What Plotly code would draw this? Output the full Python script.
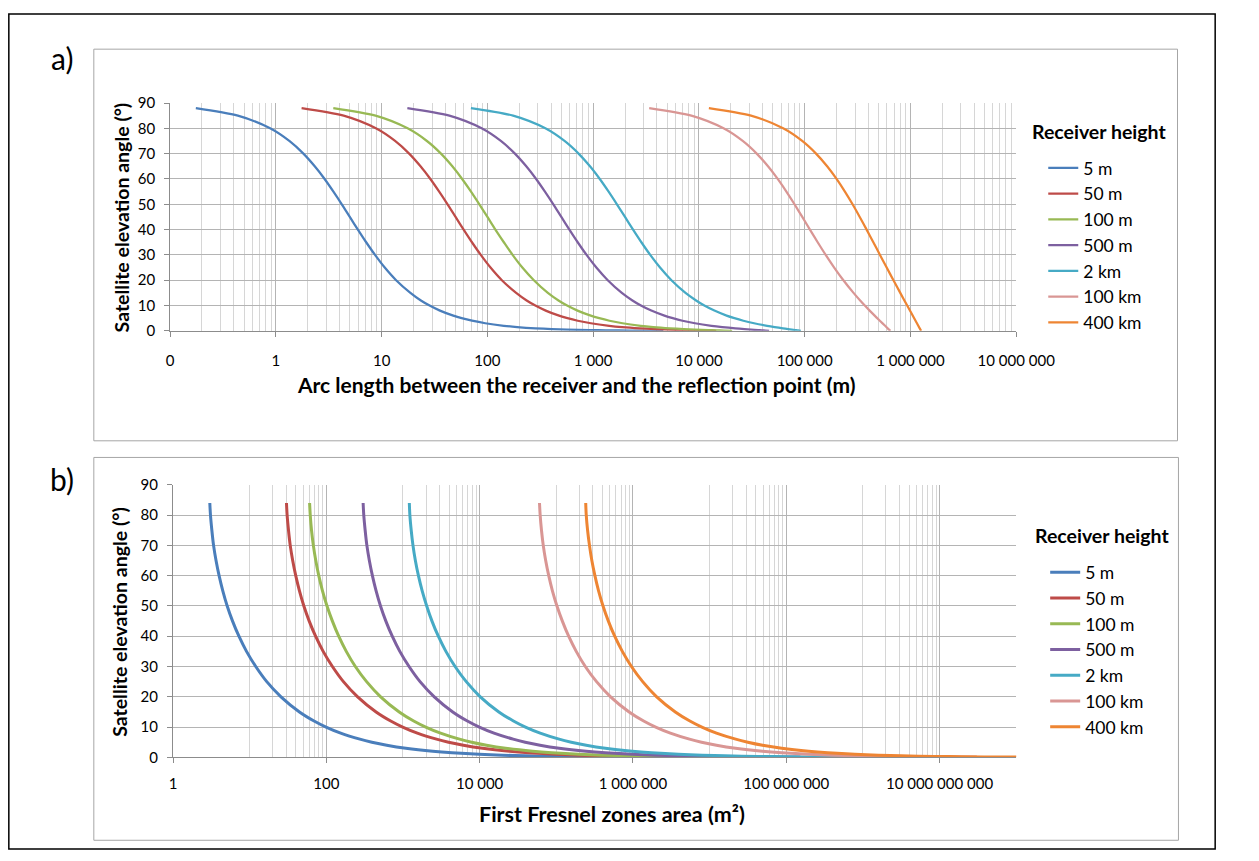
import plotly.graph_objects as go

# ---------------- data ----------------
series_names = ["5 m", "50 m", "100 m", "500 m", "2 km", "100 km", "400 km"]
series_colors = ["#4A7EBB", "#BE4B48", "#98B954", "#7D60A0", "#46AAC5", "#D99694", "#EE8533"]

# Panel a: satellite elevation (deg) vs arc length (m)
elev_a = [88, 85, 80, 75, 70, 65, 60, 55, 50, 45, 40, 35, 30, 25, 20, 15, 12, 10, 8, 6,
          5, 4, 3, 2, 1.5, 1, 0.7, 0.5, 0.3, 0.2, 0.1, 0]
arc_5m = [0.175, 0.437, 0.882, 1.34, 1.82, 2.33, 2.89, 3.50, 4.20, 5.00, 5.96, 7.14, 8.66, 10.7,
          13.7, 18.7, 23.5, 28.4, 35.6, 47.6, 57.1, 71.5, 95.4, 143, 191, 285, 406, 564, 917,
          1316, 2207, 4608]
arc_50m = [1.75, 4.37, 8.82, 13.4, 18.2, 23.3, 28.9, 35.0, 42.0, 50.0, 59.6, 71.4, 86.6, 107,
           137, 187, 235, 284, 356, 476, 571, 714, 951, 1419, 1878, 2762, 3812, 5043, 7211,
           8937, 11330, 14573]
arc_100m = [3.49, 8.75, 17.6, 26.8, 36.4, 46.6, 57.7, 70.0, 83.9, 100, 119, 143, 173, 214, 275,
            373, 470, 567, 711, 950, 1142, 1425, 1894, 2811, 3697, 5344, 7189, 9184, 12298,
            14489, 17234, 20609]
arc_500m = [17.5, 43.7, 88.2, 134, 182, 233, 289, 350, 420, 500, 596, 714, 866, 1072, 1374,
            1866, 2352, 2830, 3545, 4720, 5660, 6997, 9171, 13156, 16616, 22075, 26940, 31137,
            36286, 39262, 42526, 46083]
arc_2km = [69.8, 175, 353, 536, 728, 933, 1155, 1400, 1678, 2000, 2384, 2856, 3464, 4289, 5495,
           7464, 9400, 11250, 14000, 18270, 21647, 26305, 33223, 44137, 52026, 62262, 69789,
           75464, 81703, 85036, 88520, 92152]
elev_a_100km = [88, 85, 80, 75, 70, 65, 60, 55, 50, 45, 40, 35, 30, 25, 20, 15, 12, 10, 8, 6,
                4, 2, 1, 0]
arc_100km = [3385, 8480, 17085, 25937, 35185, 45000, 55567, 67143, 80110, 94884, 112067,
             132679, 157982, 190066, 232234, 289622, 334640, 370260, 411554, 458900, 513600,
             576000, 608800, 646200]
elev_a_400km = [88, 85, 80, 75, 70, 65, 60, 55, 50, 45, 40, 35, 30, 25, 20, 15, 10, 5, 2, 0]
arc_400km = [12412, 31069, 62526, 94700, 128044, 163022, 200120, 240040, 283674, 331500,
             385063, 445700, 515230, 596000, 690420, 801150, 931400, 1084500, 1186000, 1261800]

# Panel b: satellite elevation (deg) vs first Fresnel zone area (m2)
elev_b = [84, 80, 75, 70, 65, 60, 55, 50, 45, 40, 35, 30, 25, 20, 15, 12, 10, 8, 6, 5, 4, 3,
          2, 1.5, 1, 0.7, 0.5, 0.3, 0.2, 0.1, 0.08]
area_5m = [3.02, 3.08, 3.21, 3.38, 3.64, 3.99, 4.46, 5.09, 5.98, 7.24, 9.09, 12.0, 16.7, 25.6,
           44.6, 69.2, 99.1, 154, 274, 393, 614, 1090, 2450, 4360, 9820, 20000, 39300,
           109000, 245000, 982000, 1530000]
area_50m = [30.2, 30.8, 32.1, 33.8, 36.4, 39.9, 44.6, 50.9, 59.8, 72.4, 90.9, 120, 167, 256,
            446, 692, 991, 1540, 2740, 3930, 6140, 10900, 24500, 43600, 98200, 200000,
            393000, 1090000, 2450000, 9820000, 15300000]
area_100m = [60.5, 61.7, 64.1, 67.7, 72.8, 79.7, 89.1, 102, 120, 145, 182, 239, 335, 511, 893,
             1380, 1980, 3090, 5470, 7870, 12300, 21800, 49100, 87200, 196000, 401000,
             785000, 2180000, 4910000, 19600000, 30700000]
area_500m = [302, 308, 321, 338, 364, 399, 446, 509, 598, 724, 909, 1200, 1670, 2560, 4460,
             6920, 9910, 15400, 27400, 39300, 61400, 109000, 245000, 436000, 982000, 2000000,
             3930000, 10900000, 24500000, 98200000, 153000000]
area_2km = [1210, 1230, 1280, 1350, 1450, 1590, 1780, 2040, 2390, 2890, 3630, 4780, 6690,
            10200, 17800, 27600, 39600, 61700, 109000, 157000, 246000, 436000, 981000,
            1740000, 3920000, 8010000, 15700000, 43600000, 98100000, 392000000, 613000000]
area_100km = [60400, 61600, 64100, 67600, 72700, 79700, 89000, 102000, 120000, 145000, 182000,
              239000, 335000, 511000, 892000, 1380000, 1980000, 3080000, 5470000, 7860000,
              12300000, 21800000, 49100000, 87200000, 196000000, 400000000, 785000000,
              2180000000, 4900000000, 19600000000, 30600000000]
area_400km = [242000, 246000, 256000, 271000, 291000, 319000, 356000, 407000, 478000, 578000,
              727000, 956000, 1340000, 2040000, 3570000, 5530000, 7930000, 12300000, 21900000,
              31500000, 49100000, 87300000, 196000000, 349000000, 785000000, 1600000000,
              3140000000, 8720000000, 19600000000, 78500000000, 123000000000]

# Tick labels
ticks_a = [0.1, 1, 10, 100, 1000, 10000, 100000, 1000000, 10000000]
ticktext_a = ["0", "1", "10", "100", "1 000", "10 000", "100 000", "1 000 000", "10 000 000"]
ticks_b = [1, 100, 10000, 1000000, 100000000, 10000000000]
ticktext_b = ["1", "100", "10 000", "1 000 000", "100 000 000", "10 000 000 000"]

# ---------------- figure ----------------
W, H = 1259, 861
FONT = "Lato, 'Open Sans', sans-serif"


def px_x(p):
    return p / W


def px_y(p):
    return 1 - p / H


fig = go.Figure()

arcs_x = [arc_5m, arc_50m, arc_100m, arc_500m, arc_2km, arc_100km, arc_400km]
arcs_y = [elev_a, elev_a, elev_a, elev_a, elev_a, elev_a_100km, elev_a_400km]
for name, col, xs, ys in zip(series_names, series_colors, arcs_x, arcs_y):
    fig.add_trace(go.Scatter(x=xs, y=ys, mode="lines", name=name,
                             line=dict(color=col, width=2.25, shape="spline", smoothing=0.8),
                             xaxis="x", yaxis="y", legend="legend"))

areas = [area_5m, area_50m, area_100m, area_500m, area_2km, area_100km, area_400km]
for name, col, xs in zip(series_names, series_colors, areas):
    fig.add_trace(go.Scatter(x=xs, y=elev_b, mode="lines", name=name,
                             line=dict(color=col, width=3, shape="spline", smoothing=0.8),
                             xaxis="x2", yaxis="y2", legend="legend2"))

minor_a = [k * 10 ** d for d in range(-1, 7) for k in range(2, 10)]
minor_b = [k * 10 ** (d + 1) for d in range(0, 11, 2) for k in range(1, 10)]
minor_b = [v for v in minor_b if v <= 1e11]

GRID = "#B4B4B4"
MINOR = "#D6D6D6"
AXIS = "#8C8C8C"
tickfont = dict(family=FONT, size=15, color="#000000")

common_x = dict(type="log", showgrid=True, gridcolor=GRID, gridwidth=1,
                showline=True, linecolor=AXIS, linewidth=1, ticks="outside",
                ticklen=5, tickcolor=AXIS, tickfont=tickfont, zeroline=False,
                tickmode="array")
common_y = dict(range=[0, 90], dtick=10, tick0=0, showgrid=True, gridcolor=GRID,
                showline=True, linecolor=AXIS, linewidth=1, ticks="outside",
                ticklen=5, tickcolor=AXIS, tickfont=tickfont, zeroline=False,
                ticklabelstandoff=6)

legend_font = dict(family=FONT, size=17.5, color="#000000")
fig.update_layout(
    width=W, height=H, autosize=False,
    margin=dict(l=0, r=0, t=0, b=0),
    paper_bgcolor="white", plot_bgcolor="white",
    font=dict(family=FONT, color="#000000"),
    xaxis=dict(common_x, domain=[px_x(172), px_x(1048)], range=[-1, 7],
               tickvals=ticks_a, ticktext=ticktext_a, anchor="y", ticklabelstandoff=11,
               minor=dict(tickmode="array", tickvals=minor_a, showgrid=True,
                          gridcolor=MINOR, gridwidth=1, ticks="")),
    yaxis=dict(common_y, domain=[px_y(327.7), px_y(95)], anchor="x"),
    xaxis2=dict(common_x, domain=[px_x(175), px_x(1048)], range=[0, 11],
                tickvals=ticks_b, ticktext=ticktext_b, anchor="y2", ticklabelstandoff=8,
                minor=dict(tickmode="array", tickvals=minor_b, showgrid=True,
                           gridcolor=MINOR, gridwidth=1, ticks="")),
    yaxis2=dict(common_y, domain=[px_y(763.3), px_y(485)], anchor="x2"),
    legend=dict(x=px_x(1076), y=px_y(143), xanchor="left", yanchor="top",
                font=legend_font, bgcolor="rgba(0,0,0,0)", borderwidth=0,
                itemwidth=30, tracegroupgap=0),
    legend2=dict(x=px_x(1078), y=px_y(556), xanchor="left", yanchor="top",
                 font=legend_font, bgcolor="rgba(0,0,0,0)", borderwidth=0,
                 itemwidth=30, tracegroupgap=0),
    showlegend=True,
)

shapes = [
    dict(type="rect", xref="paper", yref="paper", x0=px_x(5), x1=px_x(1254),
         y0=px_y(857), y1=px_y(4), line=dict(color="#000000", width=1.5)),
    dict(type="rect", xref="paper", yref="paper", x0=px_x(93), x1=px_x(1215),
         y0=px_y(440), y1=px_y(40), line=dict(color="#A6A6A6", width=1)),
    dict(type="rect", xref="paper", yref="paper", x0=px_x(93), x1=px_x(1216),
         y0=px_y(848), y1=px_y(457), line=dict(color="#A6A6A6", width=1)),
]
fig.update_layout(shapes=shapes)


def label(text, x, y, size, angle=0):
    return dict(text=text, x=px_x(x), y=px_y(y), xref="paper", yref="paper",
                showarrow=False, xanchor="center", yanchor="middle", textangle=angle,
                font=dict(family=FONT, size=size, color="#000000"))


annotations = [
    label("a)", 60, 49, 30),
    label("b)", 60, 479, 30),
    label("<b>Arc length between the receiver and the reflection point (m)</b>", 592, 383, 21),
    label("<b>First Fresnel zones area (m²)</b>", 629, 821, 21.5),
    label("<b>Satellite elevation angle (°)</b>", 122, 212, 19.5, -90),
    label("<b>Satellite elevation angle (°)</b>", 120, 625, 19.5, -90),
    label("<b>Receiver height</b>", 1134, 124, 19.5),
    label("<b>Receiver height</b>", 1137, 537, 19.5),
]
fig.update_layout(annotations=annotations)

fig.write_html("out.html",
               post_script="document.body.style.margin='0';"
                           "document.body.style.overflow='hidden';")
